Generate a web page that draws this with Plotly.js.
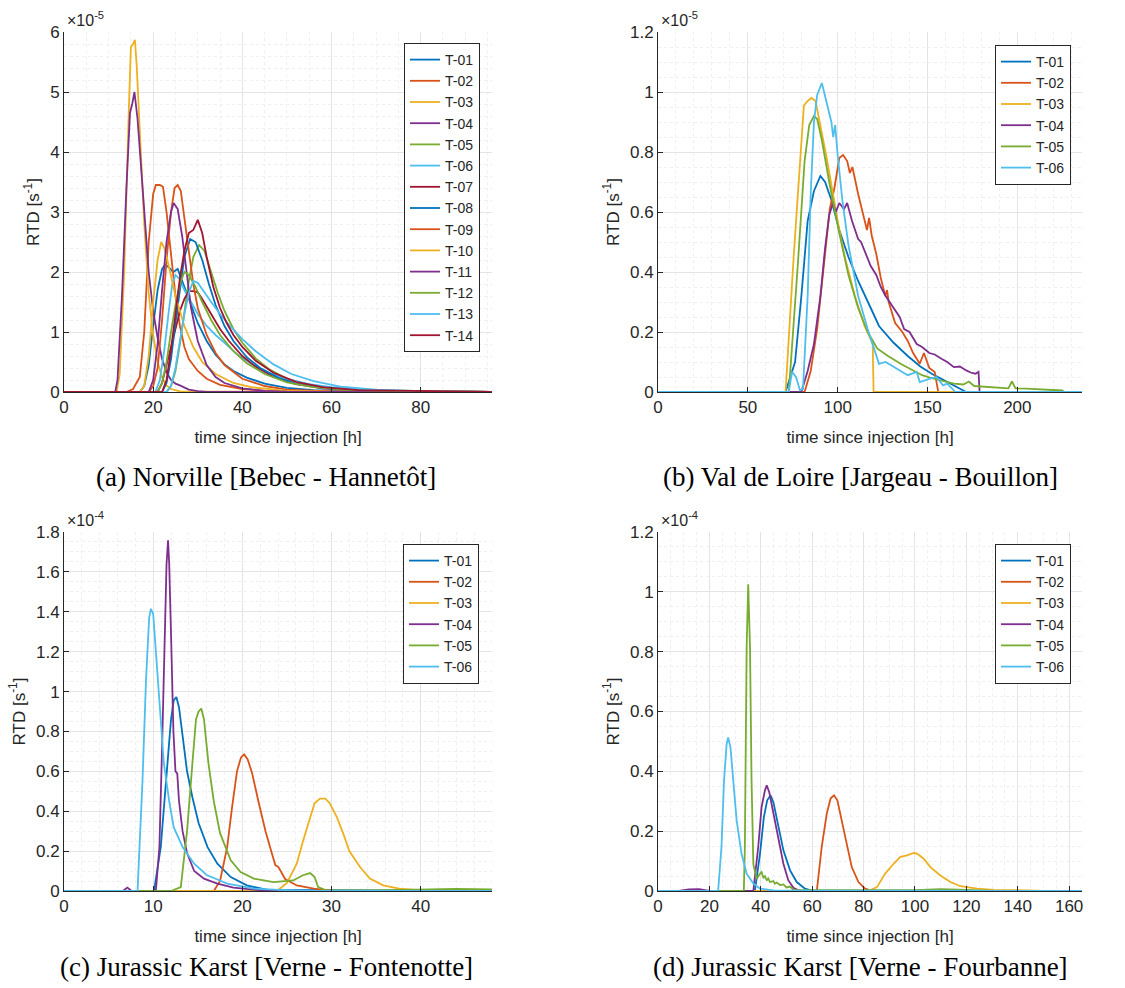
<!DOCTYPE html>
<html>
<head>
<meta charset="utf-8">
<script src="https://cdn.plot.ly/plotly-3.0.1.min.js"></script>
<style>html,body{margin:0;padding:0;background:#fff;}#chart{width:1125px;height:988px;}</style>
</head>
<body>
<div id="chart"></div>
<script>
// ---------------- DATA ----------------
const seriesNames = ["T-01","T-02","T-03","T-04","T-05","T-06","T-07","T-08","T-09","T-10","T-11","T-12","T-13","T-14"];
const seriesColors = ["#0072BD","#D95319","#EDB120","#7E2F8E","#77AC30","#4DBEEE","#A2142F","#0072BD","#D95319","#EDB120","#7E2F8E","#77AC30","#4DBEEE","#A2142F"];

const captions = ["(a) Norville [Bebec - Hannetôt]","(b) Val de Loire [Jargeau - Bouillon]","(c) Jurassic Karst [Verne - Fontenotte]","(d) Jurassic Karst [Verne - Fourbanne]"];
const exponents = ["-5","-5","-4","-4"];
const xTitle = "time since injection [h]";
const yTitle = "RTD [s<sup>-1</sup>]";

// Panel (a): time [h], RTD [1e-5 s^-1]
const a_T01_t = [0,17,18,19,20,21,22,22.7,23.5,24.5,25.5,27,28.5,30,32,34,36,38,41,45,50,56,64,75,96];
const a_T01_v = [0,0,0.1,0.45,1.1,1.7,2.05,2.12,2.08,2.0,2.05,1.75,1.45,1.15,0.85,0.62,0.46,0.35,0.24,0.14,0.07,0.03,0.012,0.004,0];
const a_T02_t = [0,14,15.5,17,18,19,20,20.6,21.5,22.2,23,24,25,26,27,28,30,32,35,40,45,52,96];
const a_T02_v = [0,0,0.05,0.25,1.0,2.5,3.3,3.45,3.45,3.42,3.0,2.3,1.6,1.1,0.75,0.55,0.35,0.22,0.12,0.05,0.02,0.005,0];
const a_T03_t = [0,11.8,12.5,13.5,14.5,15,15.5,15.9,16.3,17,18,19,20,21,22,23,24,26,96];
const a_T03_v = [0,0,0.3,2.0,4.6,5.75,5.8,5.87,5.45,4.3,2.8,1.65,0.95,0.5,0.24,0.11,0.05,0.01,0];
const a_T04_t = [0,11.5,12,13,14,14.8,15.3,15.8,16.5,17,18,19,20,21,22,23,24,25,26,27,28,30,32,96];
const a_T04_v = [0,0,0.2,1.6,3.4,4.65,4.8,5.0,4.55,4.05,3.0,2.0,1.35,0.9,0.55,0.33,0.2,0.14,0.11,0.07,0.04,0.015,0,0];
const a_T05_t = [0,23,24,25,26,27,28,29,30.3,31.5,33,34.5,36,38,40,43,46,50,55,62,70,80,96];
const a_T05_v = [0,0,0.1,0.35,0.8,1.35,1.85,2.25,2.45,2.35,2.0,1.65,1.35,1.05,0.82,0.56,0.38,0.22,0.12,0.05,0.02,0.008,0];
const a_T06_t = [0,20.5,21.5,22.5,23.5,24.3,25,26,27,28.5,30,32,34,36,39,42,46,50,55,60,68,80,96];
const a_T06_v = [0,0,0.2,0.7,1.35,1.8,1.95,1.88,1.7,1.5,1.3,1.1,0.95,0.82,0.62,0.47,0.32,0.22,0.13,0.08,0.035,0.01,0];
const a_T07_t = [0,21,22,23,24,25,26,27,28,29,30,31,33,35,37,40,43,47,52,58,66,96];
const a_T07_v = [0,0,0.15,0.45,0.8,1.1,1.35,1.55,1.68,1.68,1.66,1.55,1.3,1.05,0.85,0.6,0.42,0.25,0.13,0.06,0.02,0];
const a_T08_t = [0,22,23,24,25,26,27,28.3,29.5,31,32.5,34,36,38,41,44,48,52,58,65,75,96];
const a_T08_v = [0,0,0.15,0.55,1.15,1.75,2.25,2.55,2.5,2.2,1.8,1.45,1.1,0.85,0.58,0.4,0.24,0.14,0.07,0.03,0.01,0];
const a_T09_t = [0,19,20,21,22,23,24,24.8,25.5,26.2,27,28,29,30,32,34,36,40,45,50,60,96];
const a_T09_v = [0,0,0.1,0.4,1.2,2.2,3.0,3.4,3.45,3.35,2.9,2.3,1.8,1.4,0.95,0.65,0.45,0.22,0.1,0.04,0.01,0];
const a_T10_t = [0,17,18,19,20,21,21.8,22.5,23.5,25,27,29,31,34,38,42,50,60,96];
const a_T10_v = [0,0,0.1,0.6,1.5,2.2,2.5,2.4,2.1,1.6,1.1,0.75,0.5,0.3,0.15,0.08,0.02,0.005,0];
const a_T11_t = [0,19,20,21,22,23,24,24.6,25.5,26.5,27.5,28.5,30,32,34,36,40,45,50,96];
const a_T11_v = [0,0,0.2,0.8,1.7,2.5,3.0,3.15,3.05,2.6,2.0,1.4,0.85,0.45,0.25,0.15,0.06,0.02,0.005,0];
const a_T12_t = [0,21,22,23,24,25,26,27,28,29.5,31,33,35,38,41,45,50,56,64,96];
const a_T12_v = [0,0,0.15,0.5,1.0,1.45,1.8,2.0,1.95,1.75,1.5,1.2,0.95,0.68,0.48,0.3,0.16,0.08,0.03,0];
const a_T13_t = [0,23,24,25,26,27,28,29,30,31.5,33,35,37,40,43,47,51,56,62,70,80,96];
const a_T13_v = [0,0,0.1,0.4,0.85,1.3,1.65,1.85,1.82,1.65,1.5,1.3,1.12,0.88,0.68,0.46,0.3,0.18,0.09,0.04,0.015,0];
const a_T14_t = [0,22,23,24,25,26,27,28,29,30,31,32,33.5,35,36.5,38,40,43,47,52,58,66,96];
const a_T14_v = [0,0,0.2,0.7,1.3,1.9,2.35,2.65,2.7,2.87,2.65,2.25,1.75,1.4,1.15,0.95,0.75,0.52,0.32,0.17,0.08,0.03,0];

// Panel (b): time [h], RTD [1e-5 s^-1]
const b_T01_t = [0,71,76.3,79.8,83.3,86.8,90.4,93,96.5,100.9,106,111.4,118.4,123,131,139,146,152.6,159,164.7,171.5,236];
const b_T01_v = [0,0,0.1,0.32,0.57,0.67,0.72,0.70,0.64,0.54,0.45,0.37,0.28,0.22,0.165,0.12,0.085,0.06,0.04,0.022,0,0];
const b_T02_t = [0,81.6,85,88.6,92.1,95.6,98.2,100.9,103,105.3,106.8,108.2,111.4,115,116.3,117.5,119,121.5,124,126.5,127.5,128.4,132,136,139,142,145.7,148,151,154,156,236];
const b_T02_v = [0,0,0.07,0.21,0.41,0.61,0.68,0.78,0.79,0.77,0.73,0.75,0.66,0.57,0.54,0.58,0.52,0.46,0.38,0.32,0.34,0.30,0.23,0.2,0.17,0.13,0.094,0.13,0.08,0.067,0,0];
const b_T03_t = [0,71,75.4,79,81.2,83.3,85.4,87.7,90.4,93.9,97.4,100.9,104.4,109.6,115,119.5,120,236];
const b_T03_v = [0,0,0.44,0.77,0.955,0.97,0.98,0.97,0.89,0.78,0.66,0.54,0.44,0.32,0.22,0.16,0,0];
const b_T04_t = [0,79.8,83.3,86.8,90.4,93,95.3,97.4,99,100.9,103.5,105.3,108,111.4,113,115,118.4,121.5,124,126.7,129,132,134.5,137,140,144,147,151,154,158,161,164.7,168,171.6,174,176.7,178.4,179,236];
const b_T04_v = [0,0,0.07,0.16,0.32,0.48,0.59,0.63,0.6,0.63,0.61,0.63,0.57,0.51,0.5,0.47,0.42,0.39,0.35,0.32,0.3,0.27,0.25,0.21,0.2,0.16,0.15,0.13,0.125,0.11,0.1,0.083,0.085,0.072,0.065,0.061,0.067,0,0];
const b_T05_t = [0,72.8,78,81.6,84.2,86.8,88.6,91.2,95.6,100.9,106,111.4,116.7,122,128,135,141,147,153,159,164.7,170,173,176,182,190,195,197,199,205,215,225,226,236];
const b_T05_v = [0,0,0.44,0.77,0.89,0.92,0.91,0.84,0.69,0.53,0.39,0.28,0.2,0.145,0.12,0.094,0.075,0.056,0.045,0.035,0.028,0.025,0.035,0.02,0.017,0.015,0.012,0.035,0.012,0.011,0.008,0.005,0,0];
const b_T06_t = [0,72.8,74.6,76.8,79,80.7,83.3,85,86.8,88.6,91.2,93.9,96.5,97.5,98.6,100,102.6,106,111.4,116.7,121,123,126.7,132.8,139,144,145.7,151,155,158.6,161,164.7,165.5,236];
const b_T06_v = [0,0,0.067,0.05,0.006,0.01,0.32,0.66,0.9,0.99,1.03,0.96,0.9,0.85,0.89,0.79,0.64,0.49,0.32,0.21,0.13,0.094,0.1,0.078,0.056,0.067,0.033,0.044,0.05,0.022,0.028,0.005,0,0];

// Panel (c): time [h], RTD [1e-4 s^-1]
const c_T01_t = [0,10.1,10.85,11.4,12,12.3,12.6,12.9,13.4,13.8,14.4,15.1,16.1,17.2,18.7,20.5,22.8,48];
const c_T01_v = [0,0,0.22,0.55,0.86,0.956,0.973,0.92,0.755,0.6,0.47,0.34,0.22,0.137,0.07,0.028,0.005,0];
const c_T02_t = [0,16.8,17.5,18.3,18.85,19.4,19.85,20.2,20.6,21.1,21.8,22.6,23.3,23.7,24.05,24.8,26.1,28,30.2,48];
const c_T02_v = [0,0,0.05,0.22,0.42,0.6,0.67,0.685,0.66,0.59,0.45,0.3,0.19,0.13,0.12,0.06,0.028,0.012,0,0];
const c_T03_t = [0,23.9,25,26.1,26.8,27.6,28.1,28.7,29.3,29.8,30.6,31.3,32,33.2,34.3,35.8,37.6,39.5,41.3,48];
const c_T03_v = [0,0,0.04,0.137,0.25,0.37,0.44,0.463,0.463,0.44,0.37,0.29,0.2,0.12,0.062,0.028,0.012,0.005,0,0];
const c_T04_t = [0,6.6,7.1,7.6,10.3,10.7,11,11.3,11.5,11.67,11.8,12.04,12.27,12.5,12.7,12.9,13.3,13.8,14.6,15.7,17.2,19,22.8,48];
const c_T04_v = [0,0,0.017,0,0,0.22,0.72,1.31,1.64,1.758,1.64,1.22,0.8,0.6,0.59,0.45,0.3,0.19,0.1,0.062,0.037,0.017,0,0];
const c_T05_t = [0,12,13.1,13.8,14.4,14.8,15.1,15.4,15.7,16.2,16.8,17.5,18.7,19.8,21.3,23.5,25.7,26.8,27.6,28.1,28.5,29.4,35,40,44,48];
const c_T05_v = [0,0,0.02,0.3,0.64,0.86,0.9,0.915,0.86,0.64,0.45,0.29,0.154,0.095,0.062,0.045,0.053,0.079,0.09,0.07,0.02,0.003,0.003,0.008,0.01,0.008];
const c_T06_t = [0,8.25,8.8,9.2,9.55,9.74,10,10.3,10.8,11.2,11.8,12.3,13.3,14.6,16,18.3,21.3,26.5,48];
const c_T06_v = [0,0,0.55,1.06,1.37,1.415,1.39,1.22,0.89,0.64,0.45,0.32,0.22,0.137,0.08,0.037,0.012,0,0];

// Panel (d): time [h], RTD [1e-4 s^-1]
const d_T01_t = [0,37.7,39.7,41.2,42.5,43.8,44.9,46.8,48.8,51.4,54,57.2,60.5,165];
const d_T01_v = [0,0,0.125,0.247,0.303,0.32,0.297,0.214,0.136,0.069,0.03,0.008,0,0];
const d_T02_t = [0,61.8,63.7,65.7,67.2,68.5,69.8,71.5,73.5,75.4,78,80.6,82.6,85,165];
const d_T02_v = [0,0,0.147,0.26,0.31,0.32,0.303,0.236,0.147,0.08,0.03,0.008,0.002,0,0];
const d_T03_t = [0,81.9,85.2,88.4,91.7,94.3,96.9,99.5,100.8,103.4,106,109.9,113.8,117.7,124.2,130.7,143.7,150,165];
const d_T03_v = [0,0,0.013,0.058,0.091,0.114,0.119,0.127,0.125,0.108,0.08,0.052,0.03,0.016,0.008,0.004,0.002,0,0];
const d_T04_t = [0,8,12,16,20,37.1,39,40.3,41.6,42.3,43.3,44.9,46.8,48.8,50.7,52.7,55.3,165];
const d_T04_v = [0,0,0.005,0.006,0,0,0.147,0.28,0.336,0.353,0.33,0.258,0.17,0.091,0.036,0.011,0,0];
const d_T05_t = [0,33.4,33.8,34.5,35.1,35.8,36.4,37.1,38.4,39,39.7,40.3,41,41.6,42.3,42.9,43.6,44.9,45.5,46.2,47.5,48.8,50,51.4,52.7,100,110,120,130,165];
const d_T05_v = [0,0,0.147,0.816,1.025,0.816,0.37,0.09,0.04,0.05,0.058,0.063,0.045,0.05,0.035,0.042,0.03,0.033,0.024,0.028,0.02,0.022,0.012,0.015,0.004,0.003,0.006,0.004,0,0];
const d_T06_t = [0,23.4,24.7,25.7,26.7,27.3,28.2,29.3,30.6,32.5,34.5,37.1,39.7,45,165];
const d_T06_v = [0,0,0.147,0.37,0.49,0.513,0.48,0.37,0.236,0.125,0.058,0.025,0.008,0.002,0];

const panelA = [[a_T01_t,a_T01_v],[a_T02_t,a_T02_v],[a_T03_t,a_T03_v],[a_T04_t,a_T04_v],[a_T05_t,a_T05_v],[a_T06_t,a_T06_v],[a_T07_t,a_T07_v],[a_T08_t,a_T08_v],[a_T09_t,a_T09_v],[a_T10_t,a_T10_v],[a_T11_t,a_T11_v],[a_T12_t,a_T12_v],[a_T13_t,a_T13_v],[a_T14_t,a_T14_v]];
const panelB = [[b_T01_t,b_T01_v],[b_T02_t,b_T02_v],[b_T03_t,b_T03_v],[b_T04_t,b_T04_v],[b_T05_t,b_T05_v],[b_T06_t,b_T06_v]];
const panelC = [[c_T01_t,c_T01_v],[c_T02_t,c_T02_v],[c_T03_t,c_T03_v],[c_T04_t,c_T04_v],[c_T05_t,c_T05_v],[c_T06_t,c_T06_v]];
const panelD = [[d_T01_t,d_T01_v],[d_T02_t,d_T02_v],[d_T03_t,d_T03_v],[d_T04_t,d_T04_v],[d_T05_t,d_T05_v],[d_T06_t,d_T06_v]];

// ---------------- LAYOUT ----------------
const W = 1125, H = 988;
const fx = p => p / W;
const fy = p => 1 - p / H;
const SANS = "Liberation Sans, Arial, Helvetica, sans-serif";
const SERIF = "Liberation Serif, Times New Roman, serif";
const INK = "#262626";

const panels = [
  {data: panelA, ax: "", left: 64, right: 492, top: 32, bottom: 392, xr: [0, 96], xd: 20, xm: 5, yr: [0, 6], yd: 1, ym: 0.2, legR: 480, legT: 43, capX: 266, capY: 477},
  {data: panelB, ax: "2", left: 658, right: 1082, top: 32, bottom: 392, xr: [0, 236], xd: 50, xm: 10, yr: [0, 1.2], yd: 0.2, ym: 0.05, legR: 1071, legT: 45, capX: 860, capY: 477},
  {data: panelC, ax: "3", left: 64, right: 492, top: 532, bottom: 891, xr: [0, 48], xd: 10, xm: 2, yr: [0, 1.8], yd: 0.2, ym: 0.05, legR: 479, legT: 544, capX: 266, capY: 967},
  {data: panelD, ax: "4", left: 658, right: 1082, top: 532, bottom: 891, xr: [0, 165], xd: 20, xm: 5, yr: [0, 1.2], yd: 0.2, ym: 0.05, legR: 1071, legT: 544, capX: 860, capY: 967}
];

const traces = [];
const layout = {
  width: W, height: H,
  margin: {l: 0, r: 0, t: 0, b: 0},
  paper_bgcolor: "#fff", plot_bgcolor: "#fff",
  font: {family: SANS, color: INK, size: 17},
  annotations: [],
  showlegend: true
};

panels.forEach((p, pi) => {
  const xa = "x" + p.ax, ya = "y" + p.ax;
  const legendId = "legend" + p.ax;
  p.data.forEach((s, i) => {
    traces.push({
      type: "scatter", mode: "lines",
      x: s[0], y: s[1],
      name: seriesNames[i],
      xaxis: xa, yaxis: ya,
      legend: legendId,
      line: {color: seriesColors[i], width: 1.8},
      hoverinfo: "skip"
    });
  });
  const common = {
    showline: true, linecolor: INK, linewidth: 1, mirror: false,
    ticks: "inside", ticklen: 5, tickwidth: 1, tickcolor: INK,
    showgrid: true, gridcolor: "#e4e4e4", gridwidth: 1,
    zeroline: false, fixedrange: true,
    tickfont: {family: SANS, size: 17, color: INK}
  };
  layout["xaxis" + p.ax] = Object.assign({}, common, {
    domain: [fx(p.left), fx(p.right)],
    anchor: ya, range: p.xr, tick0: 0, dtick: p.xd,
    minor: {dtick: p.xm, showgrid: true, gridcolor: "#f0f0f0", griddash: "dot", gridwidth: 1},
    title: {text: xTitle, font: {family: SANS, size: 17, color: INK}, standoff: 14}
  });
  layout["yaxis" + p.ax] = Object.assign({}, common, {
    domain: [fy(p.bottom), fy(p.top)],
    anchor: xa, range: p.yr, tick0: 0, dtick: p.yd,
    minor: {dtick: p.ym, showgrid: true, gridcolor: "#f0f0f0", griddash: "dot", gridwidth: 1},
    title: {text: yTitle, font: {family: SANS, size: 17, color: INK}, standoff: 6}
  });
  layout[legendId] = {
    x: fx(p.legR), y: fy(p.legT), xanchor: "right", yanchor: "top",
    xref: "paper", yref: "paper",
    bgcolor: "#fff", bordercolor: INK, borderwidth: 1,
    font: {family: SANS, size: 14, color: INK},
    tracegroupgap: 0, itemwidth: 30
  };
  layout.annotations.push({
    xref: "paper", yref: "paper", x: fx(p.left + 1), y: fy(p.top - 1),
    xanchor: "left", yanchor: "bottom", showarrow: false,
    text: "×10<sup>" + exponents[pi] + "</sup>",
    font: {family: SANS, size: 16, color: INK}
  });
  layout.annotations.push({
    xref: "paper", yref: "paper", x: fx(p.capX), y: fy(p.capY),
    xanchor: "center", yanchor: "middle", showarrow: false,
    text: captions[pi],
    font: {family: SERIF, size: 27, color: "#000"}
  });
});

Plotly.newPlot("chart", traces, layout, {displayModeBar: false, staticPlot: true});
</script>
</body>
</html>
